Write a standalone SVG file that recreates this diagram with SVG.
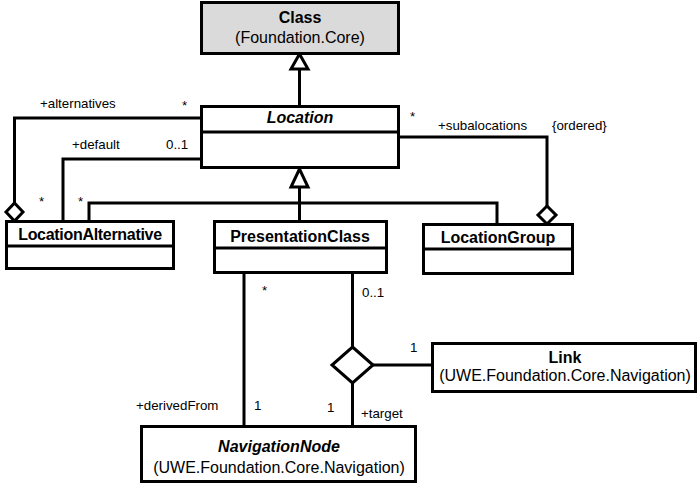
<svg xmlns="http://www.w3.org/2000/svg" width="697" height="484" viewBox="0 0 697 484">
<style>
.box{fill:#fff;stroke:#000;stroke-width:3}
.gray{fill:#dadada}
.ln{fill:none;stroke:#000;stroke-width:3}
.hd{fill:#fff;stroke:#000;stroke-width:3;stroke-linejoin:miter}
text{font-family:"Liberation Sans",Arial,Helvetica,sans-serif;fill:#000}
.t{font-size:16px;text-anchor:middle}
.b{font-weight:bold}
.i{font-style:italic}
.s{font-size:13.3px}
</style>
<rect width="697" height="484" fill="#fff"/>
<g id="connectors">
  <!-- generalization Location -> Class -->
  <line class="ln" x1="299.5" y1="69" x2="299.5" y2="106"/>
  <polygon class="hd" points="299.5,54 291,69 308,69"/>
  <!-- generalization subclasses -> Location -->
  <polyline class="ln" points="89,221 89,203 497,203 497,224"/>
  <line class="ln" x1="299.5" y1="187" x2="299.5" y2="221"/>
  <polygon class="hd" points="299.5,169 291,187 308,187"/>
  <!-- +alternatives -->
  <polyline class="ln" points="201,118 14.5,118 14.5,203"/>
  <polygon class="hd" points="14.5,203 23,212 14.5,221 6,212"/>
  <!-- +default -->
  <polyline class="ln" points="204,159 63,159 63,221"/>
  <!-- +subalocations -->
  <polyline class="ln" points="398,137 547,137 547,206"/>
  <polygon class="hd" points="547,206 556,215 547,224 538,215"/>
  <!-- derivedFrom -->
  <line class="ln" x1="244" y1="273" x2="244" y2="426"/>
  <!-- ternary target -->
  <line class="ln" x1="352.5" y1="273" x2="352.5" y2="347"/>
  <line class="ln" x1="352.5" y1="383" x2="352.5" y2="426"/>
  <line class="ln" x1="373" y1="365" x2="432" y2="365"/>
  <polygon class="hd" points="352.5,347 373,365 352.5,383 332,365"/>
  <!-- labels -->
  <text class="s" x="40" y="108">+alternatives</text>
  <text class="s" x="182" y="110">*</text>
  <text class="s" x="72" y="149">+default</text>
  <text class="s" x="166" y="149">0..1</text>
  <text class="s" x="39" y="206">*</text>
  <text class="s" x="78" y="206">*</text>
  <text class="s" x="410" y="121">*</text>
  <text class="s" x="438" y="130">+subalocations</text>
  <text class="s" x="552" y="130">{ordered}</text>
  <text class="s" x="262" y="295">*</text>
  <text class="s" x="362" y="297">0..1</text>
  <text class="s" x="410" y="352">1</text>
  <text class="s" x="136" y="410">+derivedFrom</text>
  <text class="s" x="254" y="410">1</text>
  <text class="s" x="327" y="412">1</text>
  <text class="s" x="361" y="418">+target</text>
</g>
<g id="Class">
  <rect class="box gray" x="201.5" y="2.5" width="197" height="51"/>
  <text class="t b" x="300" y="23">Class</text>
  <text class="t" x="300" y="43">(Foundation.Core)</text>
</g>
<g id="Location">
  <rect class="box" x="201.5" y="106.5" width="197" height="61"/>
  <line class="ln" x1="201.5" y1="132" x2="398.5" y2="132"/>
  <text class="t b i" x="300" y="123">Location</text>
</g>
<g id="LocationAlternative">
  <rect class="box" x="6.5" y="221.5" width="167" height="47"/>
  <line class="ln" x1="6.5" y1="246" x2="173.5" y2="246"/>
  <text class="t b" x="90" y="240" letter-spacing="-0.3">LocationAlternative</text>
</g>
<g id="PresentationClass">
  <rect class="box" x="214.5" y="221.5" width="172" height="51"/>
  <line class="ln" x1="214.5" y1="248" x2="386.5" y2="248"/>
  <text class="t b" x="300" y="242">PresentationClass</text>
</g>
<g id="LocationGroup">
  <rect class="box" x="423.5" y="224.5" width="149" height="49"/>
  <line class="ln" x1="423.5" y1="249" x2="572.5" y2="249"/>
  <text class="t b" x="498" y="243">LocationGroup</text>
</g>
<g id="Link">
  <rect class="box" x="432.5" y="343.5" width="263" height="48"/>
  <text class="t b" x="565" y="363">Link</text>
  <text class="t" x="565" y="381">(UWE.Foundation.Core.Navigation)</text>
</g>
<g id="NavigationNode">
  <rect class="box" x="141.5" y="426.5" width="274" height="55"/>
  <text class="t b i" x="279" y="452">NavigationNode</text>
  <text class="t" x="279" y="473">(UWE.Foundation.Core.Navigation)</text>
</g>
</svg>
